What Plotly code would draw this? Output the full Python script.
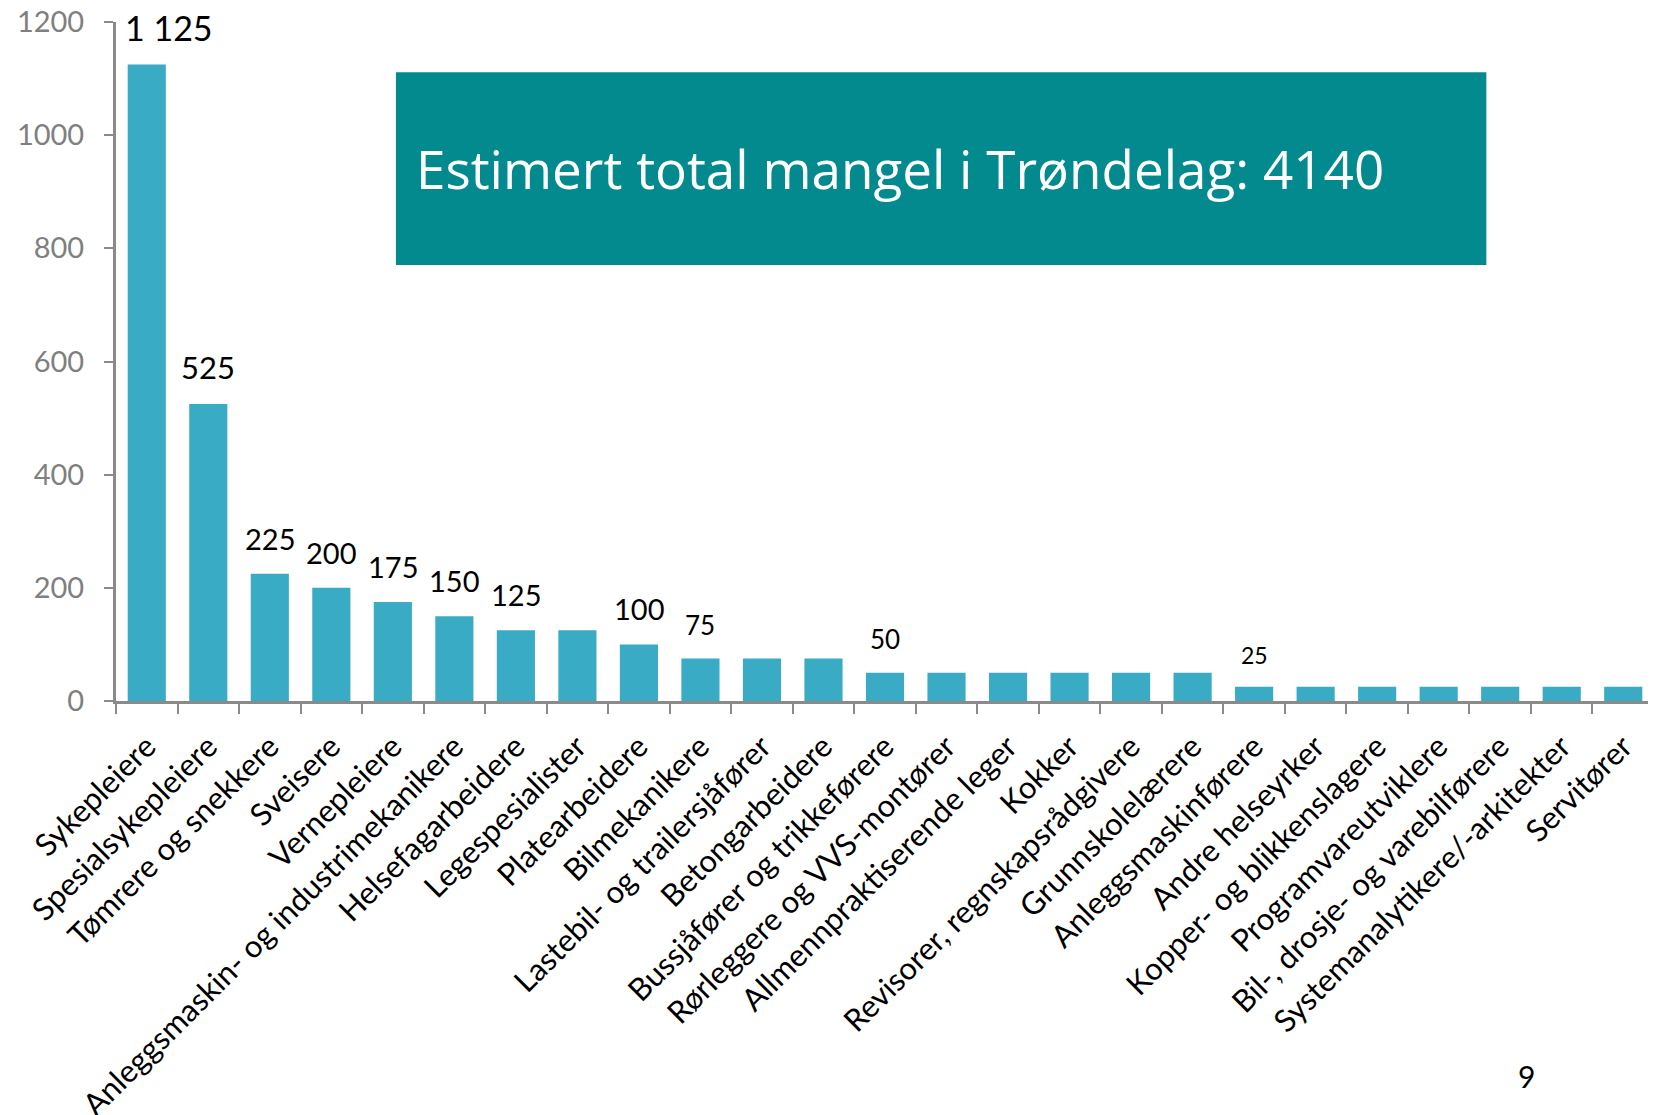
import plotly.graph_objects as go

yrker = [
    "Sykepleiere", "Spesialsykepleiere", "Tømrere og snekkere", "Sveisere",
    "Vernepleiere", "Anleggsmaskin- og industrimekanikere", "Helsefagarbeidere",
    "Legespesialister", "Platearbeidere", "Bilmekanikere",
    "Lastebil- og trailersjåfører", "Betongarbeidere", "Bussjåfører og trikkeførere",
    "Rørleggere og VVS-montører", "Allmennpraktiserende leger", "Kokker",
    "Revisorer, regnskapsrådgivere", "Grunnskolelærere", "Anleggsmaskinførere",
    "Andre helseyrker", "Kopper- og blikkenslagere", "Programvareutviklere",
    "Bil-, drosje- og varebilførere", "Systemanalytikere/-arkitekter", "Servitører",
]
mangel = [1125, 525, 225, 200, 175, 150, 125, 125, 100, 75, 75, 75, 50,
          50, 50, 50, 50, 50, 25, 25, 25, 25, 25, 25, 25]
etiketter = ["1 125", "525", "225", "200", "175", "150", "125", "", "100", "75",
             "", "", "50", "", "", "", "", "", "25", "", "", "", "", "", ""]
etikett_str = [34, 31, 29, 29, 29, 29, 29, 0, 29, 26, 0, 0, 26, 0, 0, 0, 0, 0, 23,
               0, 0, 0, 0, 0, 0]
y_ticks = [0, 200, 400, 600, 800, 1000, 1200]
tittel = "Estimert total mangel i Trøndelag: 4140"

fig = go.Figure()
fig.add_trace(go.Bar(
    x=yrker, y=mangel,
    marker=dict(color="#3aabc4", line=dict(width=0)),
    hoverinfo="x+y",
))

# verdier over søylene
for i, (navn, v, tekst) in enumerate(zip(yrker, mangel, etiketter)):
    if not tekst:
        continue
    fig.add_annotation(
        x=navn, y=v, text=tekst, showarrow=False,
        yanchor="bottom", yshift=14 if i == 0 else 16,
        xshift=22 if i == 0 else 0,
        font=dict(family="Lato", size=etikett_str[i], color="black"),
    )

# boks med total
fig.add_shape(type="rect", xref="paper", yref="paper",
              x0=0.182, x1=0.891, y0=0.642, y1=0.926,
              fillcolor="#028a8f", line=dict(width=0), layer="above")
fig.add_annotation(xref="paper", yref="paper", x=0.194, y=0.784,
                   xanchor="left", yanchor="middle", showarrow=False,
                   text=tittel,
                   font=dict(family="Open Sans", size=53, color="white"))

# sidenummer
fig.add_annotation(xref="paper", yref="paper", x=0.917, y=-0.553,
                   xanchor="center", yanchor="middle", showarrow=False,
                   text="9", font=dict(family="Lato", size=30, color="black"))

fig.update_layout(
    width=1656, height=1115,
    margin=dict(l=108, r=10, t=14, b=422),
    paper_bgcolor="white", plot_bgcolor="white",
    bargap=0.38, showlegend=False,
    font=dict(family="Lato"),
    xaxis=dict(
        type="category", tickangle=-45, tickson="boundaries",
        ticks="outside", ticklen=10, tickwidth=2, tickcolor="#8a8a8a",
        showline=True, linecolor="#8a8a8a", linewidth=3,
        showgrid=False, zeroline=False, ticklabelstandoff=12,
        automargin=False,
        tickfont=dict(family="Lato", size=31, color="black"),
    ),
    yaxis=dict(
        range=[0, 1200], tickvals=y_ticks,
        ticks="outside", ticklen=9, tickwidth=2, tickcolor="#8a8a8a",
        showline=True, linecolor="#8a8a8a", linewidth=3,
        showgrid=False, zeroline=False, ticklabelstandoff=14,
        automargin=False, ticklabeloverflow="allow",
        tickfont=dict(family="Lato", size=29, color="#7f7f7f"),
    ),
)

fig.write_html("out.html")
